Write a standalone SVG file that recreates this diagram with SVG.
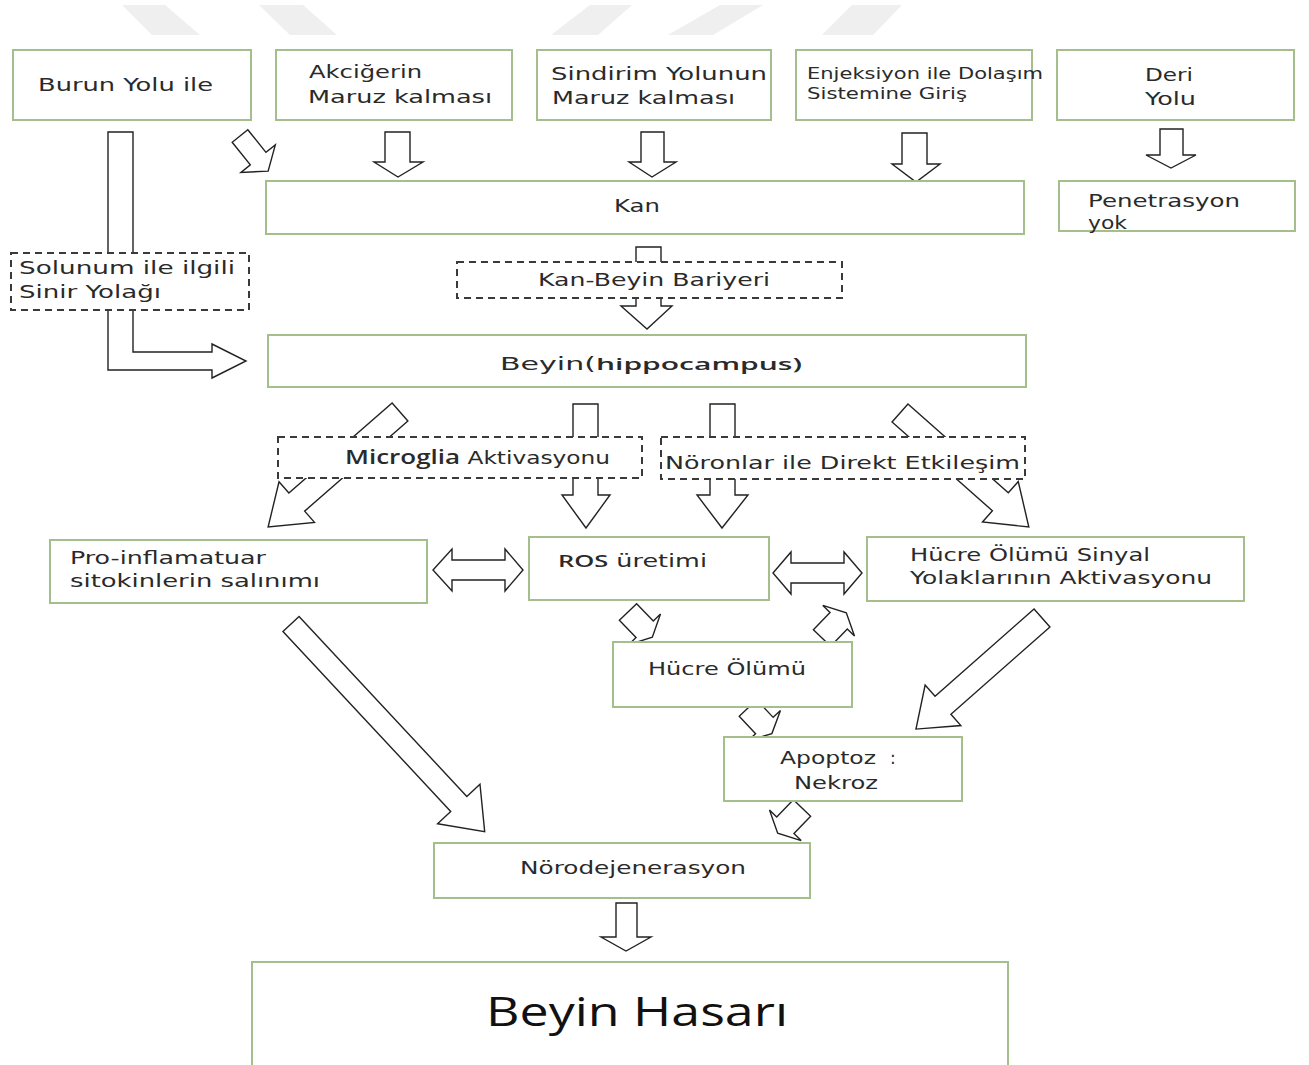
<svg xmlns="http://www.w3.org/2000/svg" width="1309" height="1065" viewBox="0 0 1309 1065">
<style>
.bx{fill:#fff;stroke:#a4bf8c;stroke-width:2}
.ds{fill:#fff;stroke:#3a3a3a;stroke-width:2;stroke-dasharray:7 5}
.ar{fill:#fff;stroke:#222;stroke-width:1.4;stroke-linejoin:miter}
.wm{fill:#efefef}
text{font-family:"DejaVu Sans","Liberation Sans",sans-serif;font-size:17px;fill:#2a2a2a}
.sm{font-size:15px}
.b{font-family:"Open Sans","Liberation Sans",sans-serif;font-weight:600}
.big{font-family:"Open Sans","Liberation Sans",sans-serif;font-size:40px;fill:#111}
</style>
<rect width="1309" height="1065" fill="#fff"/>
<g id="watermark">
<polygon class="wm" points="122,5 165,5 200,35 152,35"/>
<polygon class="wm" points="259,5 303,5 337,35 290,35"/>
<polygon class="wm" points="590,5 632,5 598,35 551,35"/>
<polygon class="wm" points="720,5 763,5 713,35 668,35"/>
<polygon class="wm" points="852,5 902,5 873,35 822,35"/>
</g>
<g id="connectors">
<polygon class="ar" points="108,132 133,132 133,352 212,352 212,344 246,361 212,378 212,370 108,370"/>
<polygon class="ar" transform="translate(240,136) rotate(51.3)" points="0,-10 29,-10 29,-22 45,0 29,22 29,10 0,10"/>
<polygon class="ar" points="385,132 410,132 410,162 423,162 398,177 374,162 385,162"/>
<polygon class="ar" points="641,132 664,132 664,162 676,162 652,177 629,162 641,162"/>
<polygon class="ar" points="902,133 927,133 927,164 940,164 916,182 892,164 902,164"/>
<polygon class="ar" points="1160,129 1183,129 1183,155 1196,155 1171,168 1146,155 1160,155"/>
<polygon class="ar" points="636,247 661,247 661,306 672,306 647,329 621,306 636,306"/>
<polygon class="ar" transform="translate(400,412) rotate(138.9)" points="0,-12 137,-12 137,-27 175,0 137,27 137,12 0,12"/>
<polygon class="ar" points="573,404 598,404 598,495 610,495 586,528 562,495 573,495"/>
<polygon class="ar" points="710,404 735,404 735,495 748,495 722,528 697,495 710,495"/>
<polygon class="ar" transform="translate(900,413) rotate(41.5)" points="0,-12 134,-12 134,-27 172,0 134,27 134,12 0,12"/>
<polygon class="ar" points="433,570 452,549 452,560 505,560 505,549 523,570 505,591 505,580 452,580 452,591"/>
<polygon class="ar" points="773,573 791,552 791,563 844,563 844,552 862,573 844,594 844,583 791,583 791,594"/>
<polygon class="ar" transform="translate(628,612) rotate(46)" points="0,-12 24,-12 24,-22 35,0 24,22 24,12 0,12"/>
<polygon class="ar" transform="translate(822,638) rotate(-46)" points="0,-12 24,-12 24,-22 35,0 24,22 24,12 0,12"/>
<polygon class="ar" transform="translate(748,708) rotate(47)" points="0,-12 24,-12 24,-22 35,0 24,22 24,12 0,12"/>
<polygon class="ar" transform="translate(802,808) rotate(134)" points="0,-12 24,-12 24,-22 35,0 24,22 24,12 0,12"/>
<polygon class="ar" transform="translate(291,624) rotate(47)" points="0,-11 246,-11 246,-29 284,0 246,29 246,11 0,11"/>
<polygon class="ar" transform="translate(1042,618) rotate(138.6)" points="0,-12 132,-12 132,-27 168,0 132,27 132,12 0,12"/>
<polygon class="ar" points="616,903 637,903 637,937 651,937 626,951 601,937 616,937"/>
</g>
<g id="n-burun"><rect class="bx" x="13" y="50" width="238" height="70"/>
<text x="38" y="90.5" textLength="175" lengthAdjust="spacingAndGlyphs">Burun Yolu ile</text></g>
<g id="n-akciger"><rect class="bx" x="276" y="50" width="236" height="70"/>
<text x="309" y="78" textLength="113" lengthAdjust="spacingAndGlyphs">Akciğerin</text>
<text x="308" y="103" textLength="184" lengthAdjust="spacingAndGlyphs">Maruz kalması</text></g>
<g id="n-sindirim"><rect class="bx" x="537" y="50" width="234" height="70"/>
<text x="551" y="79.5" textLength="216" lengthAdjust="spacingAndGlyphs">Sindirim Yolunun</text>
<text x="552" y="104" textLength="183" lengthAdjust="spacingAndGlyphs">Maruz kalması</text></g>
<g id="n-enjeksiyon"><rect class="bx" x="796" y="50" width="236" height="70"/>
<text class="sm" x="807" y="78.5" textLength="236" lengthAdjust="spacingAndGlyphs">Enjeksiyon ile Dolaşım</text>
<text class="sm" x="807" y="99" textLength="160" lengthAdjust="spacingAndGlyphs">Sistemine Giriş</text></g>
<g id="n-deri"><rect class="bx" x="1057" y="50" width="237" height="70"/>
<text x="1145" y="81" textLength="48" lengthAdjust="spacingAndGlyphs">Deri</text>
<text x="1145" y="105" textLength="51" lengthAdjust="spacingAndGlyphs">Yolu</text></g>
<g id="n-kan"><rect class="bx" x="266" y="181" width="758" height="53"/>
<text x="614" y="212" textLength="46" lengthAdjust="spacingAndGlyphs">Kan</text></g>
<g id="n-penetrasyon"><rect class="bx" x="1059" y="181" width="236" height="50"/>
<text x="1088" y="207" textLength="152" lengthAdjust="spacingAndGlyphs">Penetrasyon</text>
<text x="1088" y="229" textLength="39" lengthAdjust="spacingAndGlyphs">yok</text></g>
<g id="n-solunum"><rect class="ds" x="11" y="253" width="238" height="57"/>
<text x="19" y="274" textLength="216" lengthAdjust="spacingAndGlyphs">Solunum ile ilgili</text>
<text x="19" y="298" textLength="142" lengthAdjust="spacingAndGlyphs">Sinir Yolağı</text></g>
<g id="n-kanbeyin"><rect class="ds" x="457" y="262" width="385" height="36"/>
<text x="538" y="286" textLength="232" lengthAdjust="spacingAndGlyphs">Kan-Beyin Bariyeri</text></g>
<g id="n-beyin"><rect class="bx" x="268" y="335" width="758" height="52"/>
<text x="500" y="370" textLength="302" lengthAdjust="spacingAndGlyphs" font-size="19">Beyin(<tspan class="b">hippocampus)</tspan></text></g>
<g id="n-microglia"><rect class="ds" x="278" y="437" width="364" height="41"/>
<text x="345" y="464" textLength="265" lengthAdjust="spacingAndGlyphs"><tspan class="b" font-size="19">Microglia</tspan> Aktivasyonu</text></g>
<g id="n-noronlar"><rect class="ds" x="661" y="437" width="364" height="42"/>
<text x="665" y="469" textLength="355" lengthAdjust="spacingAndGlyphs">Nöronlar ile Direkt Etkileşim</text></g>
<g id="n-proinf"><rect class="bx" x="50" y="540" width="377" height="63"/>
<text x="70" y="564" textLength="196" lengthAdjust="spacingAndGlyphs">Pro-inflamatuar</text>
<text x="70" y="587" textLength="250" lengthAdjust="spacingAndGlyphs">sitokinlerin salınımı</text></g>
<g id="n-ros"><rect class="bx" x="529" y="537" width="240" height="63"/>
<text x="558" y="567" textLength="149" lengthAdjust="spacingAndGlyphs"><tspan class="b">ROS</tspan>  üretimi</text></g>
<g id="n-sinyal"><rect class="bx" x="867" y="537" width="377" height="64"/>
<text x="910" y="561" textLength="240" lengthAdjust="spacingAndGlyphs">Hücre Ölümü Sinyal</text>
<text x="910" y="584" textLength="302" lengthAdjust="spacingAndGlyphs">Yolaklarının Aktivasyonu</text></g>
<g id="n-hucre"><rect class="bx" x="613" y="642" width="239" height="65"/>
<text x="648" y="675" textLength="158" lengthAdjust="spacingAndGlyphs">Hücre Ölümü</text></g>
<g id="n-apoptoz"><rect class="bx" x="724" y="737" width="238" height="64"/>
<text x="780" y="764" textLength="96" lengthAdjust="spacingAndGlyphs">Apoptoz</text>
<text x="890" y="764" fill="#bbb">:</text>
<text x="794" y="789" textLength="84" lengthAdjust="spacingAndGlyphs">Nekroz</text></g>
<g id="n-norodej"><rect class="bx" x="434" y="843" width="376" height="55"/>
<text x="520" y="874" textLength="226" lengthAdjust="spacingAndGlyphs">Nörodejenerasyon</text></g>
<g id="n-hasar"><rect class="bx" x="252" y="962" width="756" height="115"/>
<text class="big" x="486" y="1026" textLength="302" lengthAdjust="spacingAndGlyphs">Beyin Hasarı</text></g>
</svg>
